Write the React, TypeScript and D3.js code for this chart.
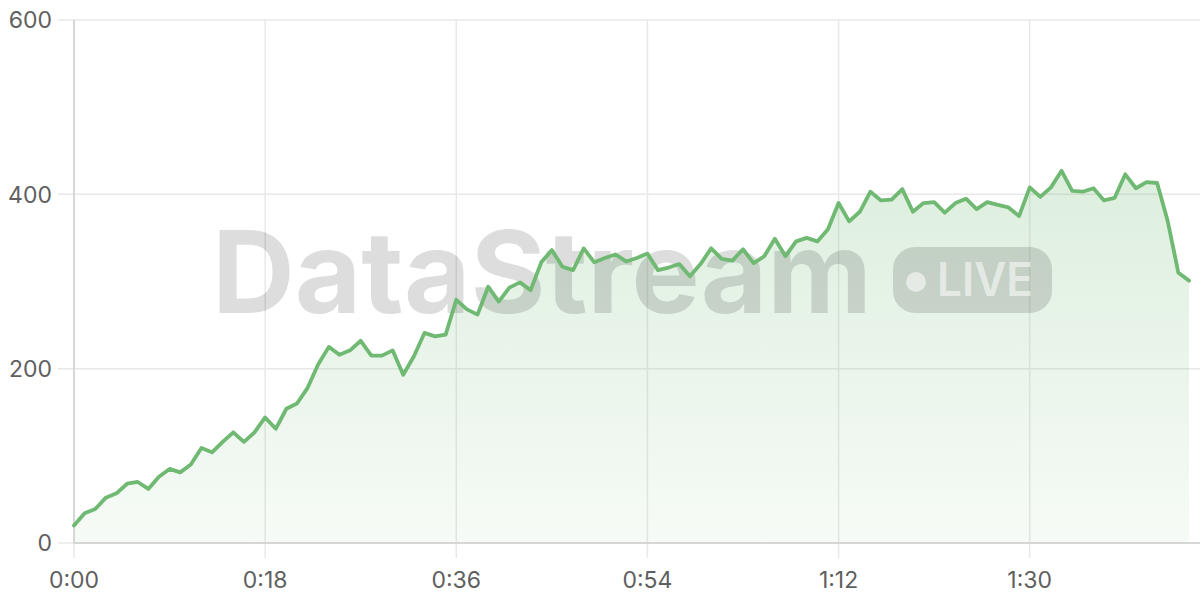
import * as d3 from 'd3';

// one sample per second, 0:00 .. 1:45
const seconds = d3.range(0, 106);
const values = [
  20, 34, 39, 52, 57, 68, 70, 62, 76, 85,
  81, 90, 109, 104, 116, 127, 116, 127, 144, 131,
  154, 160, 178, 205, 225, 216, 221, 232, 215, 215,
  221, 193, 214, 241, 237, 239, 279, 268, 262, 294,
  277, 293, 299, 290, 322, 336, 317, 313, 338, 322,
  327, 331, 323, 327, 332, 313, 316, 320, 306, 320,
  338, 326, 324, 337, 321, 329, 349, 329, 346, 350,
  346, 360, 390, 369, 380, 403, 393, 394, 406, 380,
  390, 391, 379, 390, 395, 383, 391, 388, 385, 375,
  408, 397, 408, 427, 404, 403, 407, 393, 396, 423,
  407, 414, 413, 369, 310, 301,
];
const xTicks = [0, 18, 36, 54, 72, 90];
const yTicks = [0, 200, 400, 600];

const W = 1200;
const H = 600;
const LINE = '#70b973';
const FONT = 'Inter, "Noto Sans", sans-serif';

const fmtTime = (s: number) => `${Math.floor(s / 60)}:${String(s % 60).padStart(2, '0')}`;

export default function App() {
  const x = d3.scaleLinear().domain([0, 105]).range([74, 1189]);
  const y = d3.scaleLinear().domain([0, 600]).range([543, 20]);

  const data = seconds.map((t, i) => ({ t, v: values[i] }));

  const line = d3
    .line<{ t: number; v: number }>()
    .x((d) => x(d.t))
    .y((d) => y(d.v));
  const area = d3
    .area<{ t: number; v: number }>()
    .x((d) => x(d.t))
    .y0(y(0))
    .y1((d) => y(d.v));

  return (
    <svg
      width={W}
      height={H}
      style={{ position: 'absolute', left: 0, top: 0, background: '#fff' }}
    >
      <defs>
        <linearGradient id="fillGrad" gradientUnits="userSpaceOnUse" x1="0" y1={y(430)} x2="0" y2={y(0)}>
          <stop offset="0" stopColor={LINE} stopOpacity={0.24} />
          <stop offset="1" stopColor={LINE} stopOpacity={0.06} />
        </linearGradient>
      </defs>

      {/* grid */}
      {yTicks.map((v) => (
        <line key={`gy${v}`} x1={58} x2={W} y1={y(v)} y2={y(v)} stroke="#e8e8e8" strokeWidth={1.5} />
      ))}
      {xTicks.map((t) => (
        <line key={`gx${t}`} x1={x(t)} x2={x(t)} y1={y(600)} y2={558} stroke="#e8e8e8" strokeWidth={1.5} />
      ))}

      <path d={area(data) ?? ''} fill="url(#fillGrad)" />

      {/* watermark */}
      <g fontFamily={FONT} fontWeight={700}>
        <text x={212} y={313} fontSize={114} fill="rgba(0,0,0,0.135)" textLength={660} lengthAdjust="spacingAndGlyphs">
          DataStream
        </text>
        <rect x={893} y={247} width={159} height={66} rx={22} fill="rgba(0,0,0,0.135)" />
        <circle cx={916} cy={282} r={10} fill="rgba(255,255,255,0.55)" />
        <text x={937} y={296} fontSize={46} fontWeight={600} fill="rgba(255,255,255,0.55)" textLength={96} lengthAdjust="spacingAndGlyphs">
          LIVE
        </text>
      </g>

      {/* axes */}
      <line x1={74} x2={74} y1={y(600)} y2={y(0)} stroke="#cfcfcf" strokeWidth={1.5} />
      <line x1={74} x2={W} y1={y(0)} y2={y(0)} stroke="#cfcfcf" strokeWidth={1.5} />

      <path d={line(data) ?? ''} fill="none" stroke={LINE} strokeWidth={3.8} strokeLinejoin="round" strokeLinecap="round" />

      {/* tick labels */}
      <g fontFamily={FONT} fontSize={23} fill="#5f5f5f">
        {yTicks.map((v) => (
          <text key={`ly${v}`} x={52} y={y(v)} dy="0.36em" textAnchor="end">
            {v}
          </text>
        ))}
        {xTicks.map((t) => (
          <text key={`lx${t}`} x={x(t)} y={588} textAnchor="middle">
            {fmtTime(t)}
          </text>
        ))}
      </g>
    </svg>
  );
}
